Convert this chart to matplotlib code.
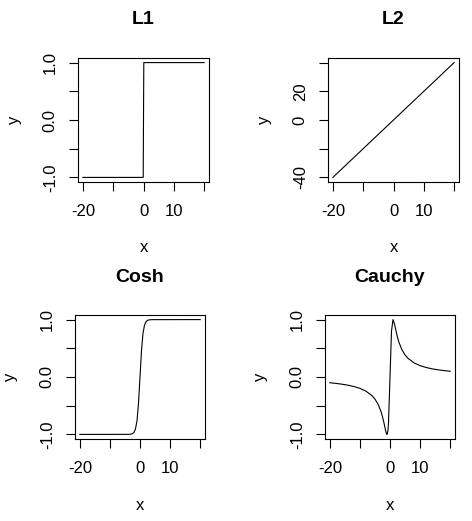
import matplotlib
matplotlib.use("Agg")
import matplotlib.pyplot as plt

plt.rcParams["font.family"] = ["Liberation Sans", "DejaVu Sans"]

# influence functions, values
l1_x = [-20, -0.1, 0, 0.1, 20]
l1_y = [-1, -1, 0, 1, 1]

l2_x = [-20, 20]
l2_y = [-40, 40]

cosh_x = [-20, -4, -3, -2.5, -2, -1.5, -1, -0.5, 0, 0.5, 1, 1.5, 2, 2.5, 3, 4, 20]
cosh_y = [-1, -0.999, -0.995, -0.987, -0.964, -0.905, -0.762, -0.462, 0,
          0.462, 0.762, 0.905, 0.964, 0.987, 0.995, 0.999, 1]

cauchy_x = [-20, -18, -16, -14, -12, -10, -8, -6, -5, -4, -3, -2.5, -2, -1.5,
            -1.2, -1, -0.7, -0.5, 0, 0.5, 1, 1.5, 2, 2.5, 3, 4, 5, 6, 8, 10,
            12, 14, 16, 18, 20]
cauchy_y = [-0.100, -0.111, -0.125, -0.142, -0.166, -0.198, -0.246, -0.324,
            -0.385, -0.471, -0.600, -0.690, -0.800, -0.923, -0.984, -1.0,
            -0.940, -0.800, 0, 0.800, 1.0, 0.923, 0.800, 0.690, 0.600, 0.471,
            0.385, 0.324, 0.246, 0.198, 0.166, 0.142, 0.125, 0.111, 0.100]

x_ticks = [-20, -10, 0, 10, 20]
x_ticklabels = ["-20", "", "0", "10", ""]
pm1_ticks = [-1, -0.5, 0, 0.5, 1]
pm1_labels = ["-1.0", "", "0.0", "", "1.0"]
l2_ticks = [-40, -20, 0, 20, 40]
l2_labels = ["-40", "", "0", "20", ""]

W, H = 472, 521
fig = plt.figure(figsize=(W / 100, H / 100), dpi=100)

# (title, x, y, yticks, ylabels, box in pixels: left, right, top, bottom)
panels = [
    ("L1", l1_x, l1_y, pm1_ticks, pm1_labels, (78, 209, 58, 182)),
    ("L2", l2_x, l2_y, l2_ticks, l2_labels, (328, 459, 58, 182)),
    ("Cosh", cosh_x, cosh_y, pm1_ticks, pm1_labels, (75, 205, 315, 439)),
    ("Cauchy", cauchy_x, cauchy_y, pm1_ticks, pm1_labels, (325, 455, 315, 439)),
]

fs = 12
for title, xs, ys, yt, yl, (l, r, t, b) in panels:
    ax = fig.add_axes([l / W, 1 - b / H, (r - l) / W, (b - t) / H])
    ax.plot(xs, ys, color="black", lw=0.8)
    ax.set_xlim(-20 - 1.6, 20 + 1.6)
    span = yt[-1] - yt[0]
    ax.set_ylim(yt[0] - 0.04 * span, yt[-1] + 0.04 * span)
    ax.set_xticks(x_ticks)
    ax.set_xticklabels(x_ticklabels)
    ax.set_yticks(yt)
    ax.set_yticklabels(yl, rotation=90, va="center")
    ax.tick_params(direction="out", length=6.5, width=0.8, labelsize=fs,
                   color="black")
    ax.tick_params(axis="x", pad=9)
    ax.tick_params(axis="y", pad=8)
    for s in ax.spines.values():
        s.set_linewidth(0.8)
    cx = (l + r) / 2
    fig.text(cx / W, 1 - (t - 38) / H, title, ha="center", va="center",
             fontsize=14, fontweight="bold")
    fig.text(cx / W, 1 - (b + 66) / H, "x", ha="center", va="center", fontsize=fs)
    cy = (t + b) / 2
    fig.text((l - 64) / W, 1 - cy / H, "y", ha="center", va="center",
             fontsize=fs, rotation=90)

fig.savefig("out.png", dpi=100)
